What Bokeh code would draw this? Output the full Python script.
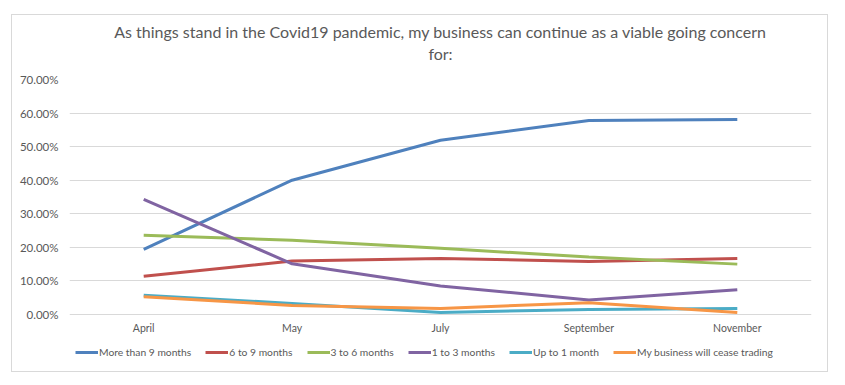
from bokeh.plotting import figure
from bokeh.models import (Range1d, NumeralTickFormatter, FixedTicker, Legend, LegendItem, Title,
                          CategoricalAxis)
from bokeh.core.properties import value
from bokeh.embed import file_html
from bokeh.resources import INLINE

months = ["April", "May", "July", "September", "November"]
series_names = ["More than 9 months", "6 to 9 months", "3 to 6 months",
                "1 to 3 months", "Up to 1 month", "My business will cease trading"]
more_than_9 = [0.194, 0.400, 0.519, 0.578, 0.581]
six_to_9 = [0.114, 0.159, 0.167, 0.158, 0.167]
three_to_6 = [0.236, 0.221, 0.197, 0.171, 0.150]
one_to_3 = [0.343, 0.151, 0.085, 0.043, 0.074]
up_to_1 = [0.057, 0.033, 0.006, 0.015, 0.018]
cease = [0.053, 0.027, 0.018, 0.035, 0.006]
colors = ["#4F81BD", "#C0504D", "#9BBB59", "#8064A2", "#4BACC6", "#F79646"]
y_ticks = [0.0, 0.1, 0.2, 0.3, 0.4, 0.5, 0.6, 0.7]
title_lines = ["As things stand in the Covid19 pandemic, my business can continue as a viable going concern",
               "for:"]

FONT = "Lato"
GRAY = "#595959"

# frame extends below zero so that the category labels and legend sit inside it
p = figure(x_range=months, y_range=Range1d(-0.152, 0.7), width=815, height=356,
           output_backend="svg", toolbar_location=None, x_axis_location=None,
           min_border_left=57, min_border_right=16, min_border_top=64, min_border_bottom=6)
p.margin = (15, 0, 0, 12)
p.styles = {"outline": "1px solid #D9D9D9"}
p.outline_line_color = None
p.background_fill_color = "white"
p.border_fill_color = "white"

# second title line carried by a bare axis above the frame
top_axis = CategoricalAxis(axis_label=title_lines[1], axis_label_text_font=FONT,
                           axis_label_text_font_size="16px", axis_label_text_color=GRAY,
                           axis_label_text_font_style="normal", axis_label_standoff=17,
                           axis_line_color=None, major_tick_line_color=None,
                           minor_tick_line_color=None, major_tick_out=0, major_tick_in=0,
                           major_label_text_font_size="1px", major_label_text_alpha=0,
                           major_label_standoff=0)
p.add_layout(top_axis, "above")
p.add_layout(Title(text=title_lines[0], align="center", text_font=FONT, text_font_size="16px",
                   text_color=GRAY, text_font_style="normal", standoff=0), "above")

p.xgrid.grid_line_color = None
p.ygrid.grid_line_color = "#D9D9D9"
p.ygrid.ticker = FixedTicker(ticks=y_ticks)
p.yaxis.ticker = FixedTicker(ticks=y_ticks)
p.yaxis.formatter = NumeralTickFormatter(format="0.00%")
p.yaxis.axis_line_color = None
p.yaxis.major_tick_line_color = None
p.yaxis.minor_tick_line_color = None
p.yaxis.major_tick_out = 0
p.yaxis.major_label_text_font = FONT
p.yaxis.major_label_text_color = GRAY
p.yaxis.major_label_text_font_size = "11.5px"
p.yaxis.major_label_standoff = 11

# category labels under the zero line
p.text(x=months, y=[-0.039] * len(months), text=months, text_align="center",
       text_baseline="middle", text_font=value(FONT), text_font_size=value("10.5px"),
       text_color=GRAY)

items = []
for name, vals, c in zip(series_names, [more_than_9, six_to_9, three_to_6, one_to_3, up_to_1, cease], colors):
    r = p.line(months, vals, line_color=c, line_width=3)
    items.append(LegendItem(label=name, renderers=[r]))

legend = Legend(items=items, orientation="horizontal", location=(6, 7),
                label_text_font=FONT, label_text_font_size="10.3px", label_text_color=GRAY,
                glyph_width=23, glyph_height=10, label_standoff=1, spacing=14,
                label_height=12, border_line_color=None, background_fill_alpha=0,
                padding=0, margin=0)
p.add_layout(legend, "center")

open("out.html", "w").write(file_html(p, INLINE))
